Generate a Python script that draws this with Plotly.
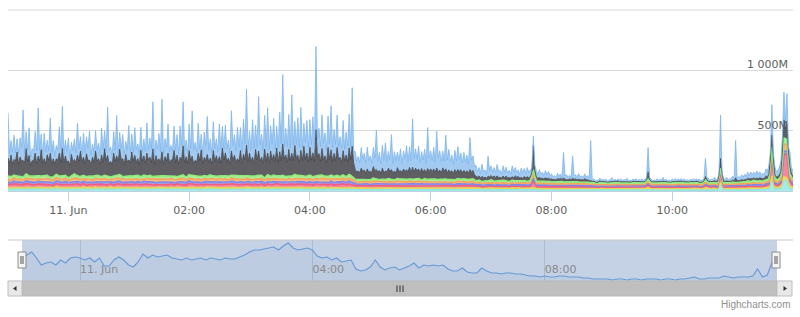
import pandas as pd
import plotly.graph_objects as go

START = "2013-06-10 23:00"
END = "2013-06-11 12:00"

# ---- main stacked series (values in millions), 3-minute samples, 23:00 -> 12:00 ----
blue_peaks = [
    375,120,200,110,160,417,140,230,100,180, 400,130,210,120,290,150,110,220,350,130,
    190,100,170,265,120,200,140,240,110,170, 130,220,150,400,120,180,335,140,200,110,
    285,150,230,120,190,140,250,160,390,130, 210,435,150,240,120,200,170,260,365,140,
    220,375,150,250,130,210,315,160,240,140, 270,180,230,150,335,170,260,190,290,465,
    180,310,200,450,190,280,375,210,300,180, 330,575,220,290,485,200,310,355,190,270,
    230,300,690,210,280,190,260,365,200,270, 170,250,190,280,485,
    150,120,170,140,180,130,160,325,150,190, 233,140,290,160,130,180,150,200,170,400,
    160,190,140,170,340,150,180,305,160,140, 280,170,130,160,190,140,150,130,265,120,
    90,70,100,60,165,80,70,95,60,85, 75,60,90,70,55,80,65,75,60,80, 55,65,50,60,55,
    40,30,45,35,210,40,30,185,35,45,30,40,35,
    330,20,15,25,18,22,15,30,20,16, 24,18,28,15,20,22,17,25,19,200,
    21,16,24,18,30,20,15,22,26,18, 20,24,17,19,22,18,25,20,150,24,
    19,28,21,360,26,30,22,35,310,33, 40,45,50,55,48,60,
    50,45,60,80,250,70,55,90,230,250,120,60,
]
# blue readings half-way between the 3-minute samples above
blue_troughs = [
    80,100,70,90,110,75,95,65,85,105, 90,70,100,80,95,60,85,110,75,90,
    70,95,80,100,65,90,105,75,85,95, 70,100,80,110,75,90,65,95,85,100,
    80,70,105,90,75,95,85,110,70,100, 90,80,115,95,75,105,85,120,90,80,
    100,110,85,95,75,120,100,90,105,85, 115,95,110,80,125,100,120,90,130,110,
    95,125,105,140,100,120,110,130,95,125, 140,110,130,100,135,115,125,105,140,120,
    130,110,150,120,140,100,130,115,135,105, 120,95,130,110,100,
    90,80,100,85,95,75,105,90,80,100, 85,95,80,105,90,75,100,85,95,110,
    95,85,100,80,110,90,85,120,95,80, 105,90,75,95,100,85,90,75,100,70,
    45,40,50,35,55,45,40,50,35,45, 40,35,50,40,30,45,35,40,35,40, 30,35,30,35,30,
    25,20,25,20,30,22,20,28,22,25,20,22,18,
    12,10,14,11,13,10,15,12,10,13, 11,14,10,12,13,11,14,12,15,13,
    11,13,12,14,10,12,11,14,12,13, 11,12,10,13,12,14,11,13,16,12,
    14,11,15,13,16,14,18,15,20,22, 25,28,30,32,35,38,
    35,30,40,50,45,40,60,120,70,40,35,
]
dark_peaks = [
    150,180,130,200,160,140,210,170,130,190, 160,220,140,170,200,150,130,190,230,160,
    140,180,120,170,210,150,190,130,160,200, 140,180,220,170,130,190,160,210,150,180,
    130,200,170,140,220,160,190,150,230,170, 140,200,160,190,130,210,180,150,240,170,
    200,160,130,190,220,150,180,140,210,170, 160,230,190,150,200,170,140,210,180,250,
    190,160,220,200,150,240,180,210,170,230, 200,260,180,220,190,240,170,210,250,190,
    230,200,380,180,220,170,240,210,190,230, 160,200,180,220,250,
    80,70,90,75,85,70,95,80,75,90, 70,85,80,75,90,70,85,80,95,100,
    90,80,95,75,90,85,80,95,75,90, 85,80,70,85,75,80,70,75,80,70,
    40,35,45,30,40,35,45,40,30,35, 40,35,30,40,35,30,35,40,30,200, 35,30,25,30,25,
    25,20,30,25,35,20,25,30,20,25,20,25,20,
    20,10,8,12,9,11,8,13,10,9, 12,8,11,10,9,12,10,8,11,60,
    10,9,12,8,11,10,9,13,10,8, 12,9,11,10,8,12,9,10,30,11,
    9,12,10,80,12,14,10,15,40,15, 18,20,22,25,20,25,
    25,20,30,35,100,30,25,40,150,130,60,30,
]
# dark readings half-way between the 3-minute samples above
dark_troughs = [
    110,95,120,100,130,105,115,90,125,100, 120,105,95,130,110,100,125,115,105,120,
    95,110,100,125,115,105,130,95,110,120, 100,115,125,105,95,120,110,130,100,115,
    105,125,110,95,120,105,130,115,100,125, 110,95,120,105,130,115,100,125,110,105,
    120,100,115,130,105,125,110,95,120,115, 105,130,115,100,125,110,120,105,130,115,
    120,105,130,115,110,125,105,130,120,110, 125,140,115,130,120,135,110,125,140,115,
    130,120,150,115,130,110,135,120,125,140, 110,125,115,130,120,
    60,55,65,50,60,55,65,60,50,55, 60,65,55,50,60,55,65,60,55,60,
    65,55,60,50,65,60,55,60,50,65, 55,60,50,55,60,50,55,50,55,45,
    28,25,30,22,28,25,30,28,22,25, 28,25,22,28,25,22,25,28,22,40, 25,22,20,22,20,
    18,15,20,18,22,15,18,20,15,18,15,18,15,
    9,7,9,8,8,7,9,8,7,8, 7,9,8,7,9,8,7,8,9,12,
    8,7,9,7,8,8,7,9,8,7, 9,8,8,7,7,9,8,8,12,9,
    8,9,8,15,10,11,9,12,14,13, 15,16,18,18,18,20,
    20,18,25,40,35,22,30,60,80,40,25,
]
green = [
    25,30,22,28,20,26,32,24,21,29, 27,23,31,25,19,28,26,22,30,24,
    21,27,33,25,23,29,20,26,31,24, 28,22,25,30,19,27,24,32,23,26,
    29,21,25,28,24,31,22,27,20,26, 30,25,23,28,21,33,24,26,29,22,
    27,25,31,20,28,24,26,30,23,27, 22,29,25,32,21,26,28,24,30,23,
    25,27,22,31,26,20,29,24,28,25, 23,30,26,21,27,33,24,28,22,26,
    29,25,23,31,27,21,26,30,24,28, 22,27,25,30,26,
    20,23,18,22,17,21,24,19,20,22, 18,23,21,17,20,24,19,22,18,21,
    23,20,17,22,19,21,24,18,20,22, 19,17,21,23,20,18,22,19,21,20,
    18,20,16,19,17,21,18,15,19,20, 17,18,16,20,19,17,18,16,19,30, 17,18,16,17,18,
    16,17,15,18,16,15,17,16,18,15,16,17,15,
    15,16,14,17,15,13,16,15,14,17, 15,16,13,15,17,14,16,15,14,25,
    16,15,14,17,15,16,13,15,16,14, 17,15,14,16,15,13,16,15,20,14,
    16,15,17,14,15,16,14,17,15,16, 18,17,19,18,20,18,
    18,20,19,22,40,21,20,25,50,45,25,20,
]
orange = [
    24,20,28,23,26,19,27,22,30,25, 21,26,23,29,20,25,28,22,24,27,
    19,25,30,23,26,21,28,24,20,27, 25,22,29,24,19,26,28,23,25,21,
    27,24,30,22,25,20,28,26,23,29, 21,25,27,22,30,24,19,26,28,23,
    25,29,21,27,24,26,20,28,25,22, 30,23,26,21,27,25,29,22,24,28,
    20,26,23,27,25,21,29,24,26,22, 28,25,20,27,23,30,24,26,21,28,
    25,22,27,24,29,23,26,20,28,25, 23,27,22,26,24,
    20,17,22,19,21,18,23,20,16,21, 19,22,18,20,23,17,21,19,22,18,
    20,23,17,21,19,22,20,18,21,19, 22,18,20,17,21,19,23,18,20,21,
    15,17,14,16,13,17,15,16,14,18, 15,13,17,16,14,15,17,14,16,40, 15,14,16,13,15,
    13,14,12,15,13,12,14,13,15,12,13,14,12,
    10,11,9,12,10,11,9,10,12,11, 10,9,11,10,12,9,10,11,10,15,
    11,10,9,12,10,11,10,9,11,12, 10,11,9,10,12,11,10,9,15,11,
    10,12,11,9,10,11,10,12,11,10, 12,11,13,12,14,13,
    13,12,15,14,30,16,14,18,60,50,20,15,
]
purple = [
    20,17,23,19,22,16,21,24,18,20, 22,19,17,23,20,18,21,25,19,22,
    17,20,23,18,21,19,24,20,16,22, 21,18,23,20,17,22,19,24,21,18,
    20,23,17,21,19,22,18,24,20,17, 22,19,21,23,18,20,16,22,24,19,
    21,18,23,20,17,22,19,21,24,18, 20,23,19,17,22,21,18,24,20,19,
    22,17,21,23,19,20,18,22,24,17, 21,19,23,20,18,22,21,17,24,19,
    20,22,18,23,21,19,17,22,20,24, 18,21,19,23,20,
    15,13,17,14,16,12,15,17,14,16, 13,15,17,12,16,14,15,13,17,14,
    16,15,12,17,14,16,13,15,17,14, 15,16,13,14,17,15,12,16,14,15,
    13,12,14,11,13,15,12,13,14,12, 13,11,14,13,12,14,13,12,14,20, 12,13,11,12,13,
    12,11,13,12,11,13,12,11,12,13,11,12,12,
    10,9,11,10,8,11,10,9,11,10, 9,11,10,8,10,11,9,10,11,12,
    10,9,11,10,9,10,11,8,10,11, 9,10,11,10,9,11,10,8,12,10,
    11,9,10,11,10,9,11,10,12,11, 10,11,12,11,12,11,
    12,11,13,12,20,13,12,14,30,25,14,12,
]
pink = [
    26,22,29,24,20,27,31,23,25,21, 28,24,30,22,26,19,27,25,23,29,
    21,26,24,30,22,27,20,25,28,23, 26,29,21,24,27,22,30,25,20,28,
    23,26,24,29,21,27,25,22,30,24, 20,28,25,23,27,21,29,24,26,22,
    30,25,21,27,24,28,23,26,20,29, 25,22,27,24,30,21,26,28,23,25,
    29,22,26,24,27,20,28,25,23,30, 24,26,21,28,25,23,29,22,27,24,
    26,20,28,25,23,30,24,27,21,26, 25,28,22,27,24,
    18,21,16,19,20,17,22,18,19,16, 21,18,20,17,19,22,16,20,18,21,
    17,19,22,18,20,16,21,19,17,20, 18,22,19,16,20,18,21,17,19,20,
    15,17,13,16,14,18,15,16,13,17, 15,14,16,15,17,13,16,15,14,60, 15,16,14,15,13,
    12,13,11,14,12,13,11,12,14,12,13,11,12,
    10,11,9,10,12,10,9,11,10,12, 9,10,11,10,9,12,10,11,9,20,
    10,11,9,10,12,10,11,9,10,11, 12,10,9,11,10,12,9,10,15,11,
    10,12,9,80,11,10,12,11,10,12, 11,12,13,12,14,13,
    14,13,16,18,150,20,16,25,180,200,40,18,
]
yellow = [
    15,13,17,14,16,12,18,15,13,16, 14,17,12,15,16,13,18,14,15,12,
    17,14,16,13,15,18,12,16,14,17, 13,15,16,12,17,14,15,18,13,16,
    14,12,17,15,13,16,18,14,12,15, 17,13,16,14,15,12,18,16,13,14,
    15,17,12,16,14,13,18,15,17,12, 16,14,15,13,17,16,12,15,14,18,
    13,16,15,12,17,14,16,13,15,18, 12,14,17,15,13,16,14,18,12,15,
    16,13,17,14,15,12,16,18,13,14, 15,17,13,16,14,
    12,11,13,12,14,11,12,13,11,12, 14,12,11,13,12,11,14,12,13,11,
    12,13,11,14,12,12,11,13,12,14, 11,12,13,11,12,14,12,11,13,12,
    12,13,11,12,14,12,11,13,12,11, 13,12,14,11,12,13,12,11,13,15, 12,11,13,12,12,
    12,13,11,12,13,12,11,13,12,12,11,13,12,
    14,15,13,14,16,13,15,14,13,15, 14,16,13,14,15,13,16,14,15,18,
    14,13,15,14,16,13,14,15,13,16, 14,15,13,14,16,15,13,14,18,15,
    14,16,13,15,14,15,13,16,14,15, 16,15,17,16,18,17,
    17,16,18,19,25,18,17,20,30,28,20,17,
]
cyan = [
    14,16,13,15,17,14,12,16,15,13, 17,14,15,16,12,14,17,15,13,16,
    14,12,15,17,13,16,14,15,12,17, 15,13,16,14,17,12,15,14,16,13,
    15,17,12,14,16,15,13,17,14,12, 16,15,13,14,17,16,12,15,14,13,
    17,15,16,12,14,15,17,13,16,14, 12,15,14,16,13,17,15,12,14,16,
    15,13,17,14,16,12,15,13,16,14, 17,15,12,14,16,13,15,17,14,12,
    16,14,15,13,17,16,12,14,15,13, 16,14,17,15,13,
    12,11,13,12,10,13,11,12,14,12, 11,13,10,12,13,11,12,10,13,12,
    11,13,12,10,12,11,13,12,11,12, 13,10,12,11,13,12,11,12,10,13,
    10,11,9,10,12,10,9,11,10,11, 10,9,11,10,12,9,10,11,10,12, 9,10,11,10,10,
    10,9,11,10,9,10,11,10,9,10,11,10,10,
    8,9,7,8,9,8,7,9,8,9, 8,7,9,8,8,9,7,8,9,10,
    8,9,7,8,9,8,7,9,8,9, 8,7,9,8,9,8,7,8,10,9,
    8,9,7,60,8,9,8,9,7,8, 9,8,10,9,10,9,
    10,9,12,14,100,15,12,20,90,80,20,12,
]

# ---- navigator series, 5-minute samples ----
nav = [
    230,260,290,230,160,180,190,160,210,180, 230,240,230,210,230,190,230,150,150,210,
    240,210,160,140,190,270,230,260,240,250, 260,230,220,210,230,210,220,230,210,230,
    220,210,230,220,220,240,260,290,310,310, 320,330,340,310,350,380,330,310,320,330,
    310,250,230,240,210,230,190,200,210,120, 100,110,140,210,140,110,130,140,110,130,
    150,180,130,160,150,160,150,160,120,100, 100,130,90,80,80,130,100,80,80,70,
    80,80,70,70,60,50,50,40,50,40, 40,50,50,40,40,40,30,30,20,20,
    20,20,10,20,20,10,20,20,10,20, 20,20,10,20,20,10,20,20,30,40,
    20,20,30,30,30,50,40,30,40,40, 40,50,120,40,60,190,130,
]

main_tick_vals = ["2013-06-11 00:00", "2013-06-11 02:00", "2013-06-11 04:00",
                  "2013-06-11 06:00", "2013-06-11 08:00", "2013-06-11 10:00"]
main_tick_text = ["11. Jun", "02:00", "04:00", "06:00", "08:00", "10:00"]
nav_tick_vals = ["2013-06-11 00:00", "2013-06-11 04:00", "2013-06-11 08:00"]
nav_tick_text = ["11. Jun", "04:00", "08:00"]
y_tick_vals = [0, 500, 1000, 1500]
y_tick_text = ["0", "500M", "1 000M", ""]

for name, s in [("blue", blue_peaks), ("dark", dark_peaks), ("green", green), ("orange", orange),
                ("purple", purple), ("pink", pink), ("yellow", yellow), ("cyan", cyan)]:
    assert len(s) == 261, (name, len(s))
assert len(blue_troughs) == 260, len(blue_troughs)
assert len(dark_troughs) == 260, len(dark_troughs)
assert len(nav) == 157, len(nav)

times = pd.date_range(START, periods=len(dark_peaks), freq="3min")
half_times = times[:-1] + pd.Timedelta(seconds=90)
nav_times = pd.date_range(START, periods=len(nav), freq="5min")


def merge(peaks, troughs):
    return pd.concat([pd.Series(peaks, index=times),
                      pd.Series(troughs, index=half_times)]).sort_index()


blue_s = merge(blue_peaks, blue_troughs)
dark_s = merge(dark_peaks, dark_troughs)

W, H = 800, 317
ML, MR, MT, MB = 8, 7, 10, 36
PW, PH = W - ML - MR, H - MT - MB


def px(x):
    return (x - ML) / PW


def py(y):
    return (H - MB - y) / PH


def rgba(hexc, a):
    h = hexc.lstrip("#")
    return "rgba(%d,%d,%d,%.2f)" % (int(h[0:2], 16), int(h[2:4], 16), int(h[4:6], 16), a)


fig = go.Figure()

# bottom -> top in stacking order
layers = [
    (times, cyan, "#91e8e1", 0.8, 1.6), (times, yellow, "#e4d354", 0.8, 1.6),
    (times, pink, "#f15c80", 0.75, 1.6), (times, purple, "#8085e9", 0.75, 1.6),
    (times, orange, "#f7a35c", 0.75, 1.6), (times, green, "#90ed7d", 0.8, 1.6),
    (dark_s.index, dark_s.values, "#434348", 0.85, 0.8),
    (blue_s.index, blue_s.values, "#7cb5ec", 0.7, 0.8),
]
for xs, vals, col, op, lw in layers:
    fig.add_trace(go.Scatter(
        x=xs, y=vals, mode="lines", stackgroup="main", stackgaps="interpolate",
        line=dict(color=col, width=lw), fillcolor=rgba(col, op),
        hoverinfo="skip", xaxis="x", yaxis="y"))

fig.add_trace(go.Scatter(
    x=nav_times, y=nav, mode="lines", fill="tozeroy",
    line=dict(color="#6699d6", width=1.1), fillcolor="rgba(69,114,167,0.05)",
    hoverinfo="skip", xaxis="x2", yaxis="y2"))

main_bottom = py(191)
nav_top = py(240)

fig.update_layout(
    width=W, height=H, margin=dict(l=ML, r=MR, t=MT, b=MB),
    paper_bgcolor="white", plot_bgcolor="white", showlegend=False,
    font=dict(family="DejaVu Sans", size=11, color="#606060"),
    xaxis=dict(domain=[0, 1], anchor="y", type="date", range=[START, END],
               tickvals=main_tick_vals, ticktext=main_tick_text,
               ticks="outside", ticklen=9, tickcolor="#C0D0E0", tickwidth=1,
               showline=True, linecolor="#C0D0E0", linewidth=1,
               showgrid=False, zeroline=False,
               tickfont=dict(size=11, color="#606060")),
    yaxis=dict(domain=[main_bottom, 1], anchor="x", range=[0, 1500],
               tickvals=y_tick_vals, ticktext=y_tick_text,
               side="right", ticklabelposition="inside", ticklabelshift=-6,
               ticklabelstandoff=2, ticks="",
               showgrid=True, gridcolor="#D8D8D8", gridwidth=1, zeroline=False,
               tickfont=dict(size=11, color="#606060")),
    xaxis2=dict(domain=[px(22), px(777)], anchor="y2", type="date", range=[START, END],
                tickvals=nav_tick_vals, ticktext=nav_tick_text,
                ticklabelposition="inside right", ticks="",
                showgrid=True, gridcolor="rgb(172,186,210)", gridwidth=1,
                showline=False, zeroline=False,
                tickfont=dict(size=11, color="#8a8a8a")),
    yaxis2=dict(domain=[0, nav_top], anchor="x2", range=[0, 410],
                showgrid=False, showticklabels=False, zeroline=False, ticks=""),
)

shapes = []
# top grid line of the main plot (1500M, label hidden)
shapes.append(dict(type="line", xref="paper", yref="paper", x0=0, x1=1, y0=1, y1=1,
                   line=dict(color="#D8D8D8", width=1)))
# navigator mask (selected range)
shapes.append(dict(type="rect", xref="paper", yref="paper", x0=px(22), x1=px(777),
                   y0=0, y1=nav_top, fillcolor="rgb(197,209,228)", line=dict(width=0),
                   layer="below"))
# navigator outline top
shapes.append(dict(type="line", xref="paper", yref="paper", x0=px(8), x1=px(793),
                   y0=nav_top, y1=nav_top, line=dict(color="#c8c8cc", width=1)))
# scrollbar bar
shapes.append(dict(type="rect", xref="paper", yref="paper", x0=px(22), x1=px(777),
                   y0=py(296), y1=py(281), fillcolor="#bfbfbf", line=dict(color="#b8b8b8", width=1)))
# scrollbar buttons
for x0, x1 in [(8, 22), (777, 792)]:
    shapes.append(dict(type="rect", xref="paper", yref="paper", x0=px(x0), x1=px(x1),
                       y0=py(296), y1=py(281), fillcolor="#e8e8e8", line=dict(color="#bdbdbd", width=1)))
# arrows
shapes.append(dict(type="path", xref="paper", yref="paper",
                   path="M %f %f L %f %f L %f %f Z" % (px(13), py(288.5), px(16.5), py(286), px(16.5), py(291)),
                   fillcolor="#333", line=dict(width=0)))
shapes.append(dict(type="path", xref="paper", yref="paper",
                   path="M %f %f L %f %f L %f %f Z" % (px(787), py(288.5), px(783.5), py(286), px(783.5), py(291)),
                   fillcolor="#333", line=dict(width=0)))
# scrollbar grip
for gx in (397, 400, 403):
    shapes.append(dict(type="line", xref="paper", yref="paper", x0=px(gx), x1=px(gx),
                       y0=py(285.5), y1=py(292), line=dict(color="#333", width=1)))
# navigator handles
for hx0, hx1 in [(18, 26), (772, 780)]:
    shapes.append(dict(type="rect", xref="paper", yref="paper", x0=px(hx0), x1=px(hx1),
                       y0=py(268), y1=py(252), fillcolor="#f4f4f4", line=dict(color="#8a8a8a", width=1)))
    for gx in (hx0 + 3, hx0 + 5):
        shapes.append(dict(type="line", xref="paper", yref="paper", x0=px(gx), x1=px(gx),
                           y0=py(264), y1=py(256), line=dict(color="#555", width=1)))
fig.update_layout(shapes=shapes)

fig.add_annotation(text="Highcharts.com", xref="paper", yref="paper",
                   x=px(792), y=py(304), xanchor="right", yanchor="middle", showarrow=False,
                   font=dict(family="Liberation Sans", size=10, color="#909090"))

fig.write_html("out.html")
